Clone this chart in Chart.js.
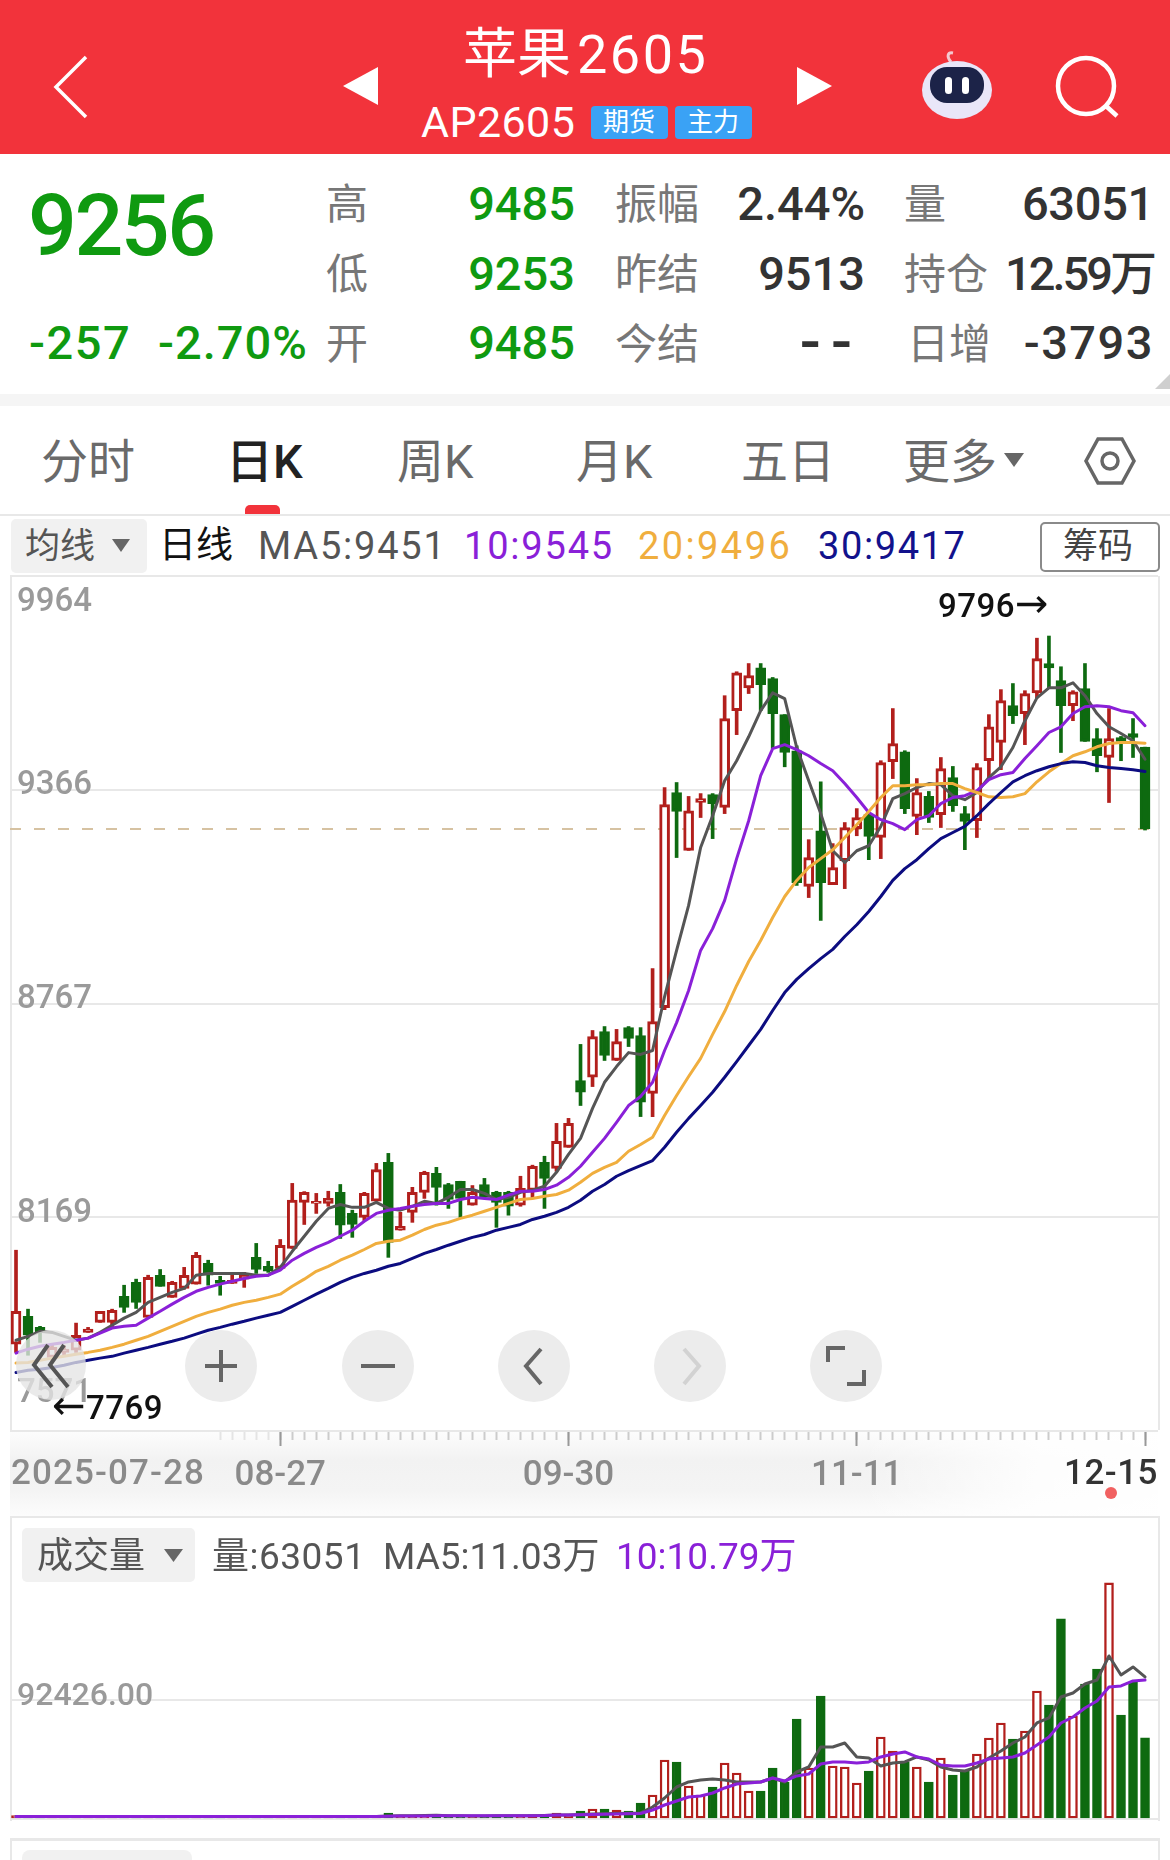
<!DOCTYPE html>
<html>
<head>
<meta charset="utf-8">
<style>
  html, body { margin: 0; padding: 0; background: #fff; }
  body { position: relative; width: 1170px; height: 1860px; overflow: hidden; font-family: Roboto, "Noto Sans CJK SC", sans-serif; }
  .abs { position: absolute; }
  .t { position: absolute; transform: translateY(-50%); white-space: nowrap; line-height: 1; }
  .g { color: #0f9a10; font-weight: 500; font-size: 47px; }
  .k { color: #333; font-weight: 500; font-size: 47px; }
  .c { color: #777; font-size: 42px; }
  .tab { font-size: 47px; color: #6a6a6a; }
  canvas { position: absolute; }
  svg { position: absolute; overflow: visible; }
</style>
</head>
<body>

<!-- header -->
<div class="abs" style="left:0;top:0;width:1170px;height:154px;background:#f2333b"></div>
<svg style="left:0;top:0" width="1170" height="154">
  <polyline points="86,57 56,87 86,117" fill="none" stroke="#fff" stroke-width="3.5"/>
  <polygon points="378,67 343,86 378,105" fill="#fff"/>
  <polygon points="797,67 832,86 797,105" fill="#fff"/>
  <path d="M951 62 C946 56 948 52 953 53" fill="none" stroke="#f3c9d0" stroke-width="3"/>
  <ellipse cx="957" cy="90" rx="35" ry="29" fill="#e9e6f8"/>
  <rect x="930" y="67" width="54" height="36" rx="17" fill="#1c2348"/>
  <rect x="945" y="77" width="7" height="17" rx="3.5" fill="#fff"/>
  <rect x="962" y="77" width="7" height="17" rx="3.5" fill="#fff"/>
  <circle cx="1086" cy="86" r="28" fill="none" stroke="#fff" stroke-width="4.5"/>
  <line x1="1106" y1="106" x2="1117" y2="116" stroke="#fff" stroke-width="4.5"/>
</svg>
<div class="t" style="left:463px;top:55px;font-size:54px;color:#fff">苹果<span style="margin-left:6px;letter-spacing:2.5px">2605</span></div>
<div class="t" style="left:421px;top:122px;font-size:43px;color:#fff;letter-spacing:.4px">AP2605</div>
<div class="abs" style="left:591px;top:106px;width:77px;height:33px;background:#3aa2f5;border-radius:4px"></div>
<div class="abs" style="left:675px;top:106px;width:77px;height:33px;background:#3aa2f5;border-radius:4px"></div>
<div class="t" style="left:603px;top:122px;font-size:26px;color:#fff">期货</div>
<div class="t" style="left:687px;top:122px;font-size:26px;color:#fff">主力</div>

<!-- quote block -->
<div class="t" style="left:28px;top:226px;font-size:86px;color:#0f9a10;font-weight:500;letter-spacing:-2.5px">9256</div>
<div class="t g" style="left:29px;top:342px;letter-spacing:1.5px">-257</div>
<div class="t g" style="left:158px;top:342px;letter-spacing:1px">-2.70%</div>
<div class="t c" style="left:326px;top:205px">高</div>
<div class="t c" style="left:326px;top:275px">低</div>
<div class="t c" style="left:326px;top:345px">开</div>
<div class="t g" style="right:595px;top:203px">9485</div>
<div class="t g" style="right:595px;top:273px">9253</div>
<div class="t g" style="right:595px;top:342px">9485</div>
<div class="t c" style="left:615px;top:205px">振幅</div>
<div class="t c" style="left:615px;top:275px">昨结</div>
<div class="t c" style="left:615px;top:345px">今结</div>
<div class="t k" style="right:305px;top:203px">2.44%</div>
<div class="t k" style="right:305px;top:273px">9513</div>
<div class="t k" style="right:308px;top:342px;font-size:62px;letter-spacing:10px">--</div>
<div class="t c" style="left:904px;top:205px">量</div>
<div class="t c" style="left:904px;top:275px">持仓</div>
<div class="t c" style="left:907px;top:345px">日增</div>
<div class="t k" style="right:16px;top:203px;letter-spacing:-.3px">63051</div>
<div class="t k" style="right:16px;top:273px;letter-spacing:-3px">12.59万</div>
<div class="t k" style="right:16px;top:342px;letter-spacing:1.5px">-3793</div>
<svg style="left:1150px;top:374px" width="20" height="15"><polygon points="20,0 20,15 5,15" fill="#cfcfcf"/></svg>
<div class="abs" style="left:0;top:394px;width:1170px;height:12px;background:#f5f5f5"></div>

<!-- tabs -->
<div class="t tab" style="left:41px;top:461px">分时</div>
<div class="t tab" style="left:226px;top:461px;color:#222;font-weight:500">日K</div>
<div class="t tab" style="left:397px;top:461px">周K</div>
<div class="t tab" style="left:576px;top:461px">月K</div>
<div class="t tab" style="left:741px;top:461px">五日</div>
<div class="t tab" style="left:903px;top:461px">更多</div>
<svg style="left:1004px;top:453px" width="20" height="14"><polygon points="0,0 20,0 10,14" fill="#666"/></svg>
<svg style="left:1085px;top:437px" width="50" height="48">
  <polygon points="13,2 37,2 49,24 37,46 13,46 1,24" fill="none" stroke="#666" stroke-width="3.5"/>
  <circle cx="25" cy="24" r="8" fill="none" stroke="#666" stroke-width="3.5"/>
</svg>
<div class="abs" style="left:245px;top:505px;width:35px;height:9px;background:#f2333b;border-radius:5px 5px 0 0"></div>
<div class="abs" style="left:0;top:514px;width:1170px;height:2px;background:#e8e8e8"></div>

<!-- MA legend row -->
<div class="abs" style="left:11px;top:519px;width:136px;height:54px;background:#f1f1f1;border-radius:5px"></div>
<div class="t" style="left:25px;top:546px;font-size:35px;color:#555">均线</div>
<svg style="left:112px;top:539px" width="18" height="13"><polygon points="0,0 18,0 9,13" fill="#666"/></svg>
<div class="t" style="left:159px;top:545px;font-size:37px;color:#111">日线</div>
<div class="t" style="left:258px;top:546px;font-size:38px;color:#555;letter-spacing:1.8px">MA5:9451</div>
<div class="t" style="left:464px;top:546px;font-size:38px;color:#8a20d8;letter-spacing:1.8px">10:9545</div>
<div class="t" style="left:638px;top:546px;font-size:38px;color:#f0ae3e;letter-spacing:2.4px">20:9496</div>
<div class="t" style="left:818px;top:546px;font-size:38px;color:#12128c;letter-spacing:1.6px">30:9417</div>
<div class="abs" style="left:1040px;top:522px;width:116px;height:46px;border:2px solid #8a8a8a;border-radius:5px"></div>
<div class="t" style="left:1063px;top:546px;font-size:35px;color:#444">筹码</div>

<!-- panel frames and the band with the dates -->
<div class="abs" style="left:10px;top:1431px;width:1148px;height:85px;background:linear-gradient(180deg,#fdfdfd 0%,#f2f2f2 35%,#f4f4f4 70%,#fcfcfc 100%)"></div>
<div class="abs" style="left:860px;top:1431px;width:298px;height:85px;background:linear-gradient(90deg,rgba(255,255,255,0) 0%,rgba(255,255,255,.85) 60%,rgba(255,255,255,.95) 100%)"></div>
<div class="abs" style="left:10px;top:576px;width:1146px;height:854px;border:solid #e8e8e8;border-width:0 2px"></div>
<div class="abs" style="left:10px;top:1516px;width:1146px;height:303px;border:solid #e8e8e8;border-width:2px 2px 0"></div>
<div class="abs" style="left:10px;top:1838px;width:1146px;height:30px;border:solid #e8e8e8;border-width:3px 2px 0"></div>
<div class="abs" style="left:22px;top:1850px;width:170px;height:30px;background:#f1f1f1;border-radius:8px"></div>

<canvas id="mainChart" width="1148" height="946" style="left:10px;top:570px"></canvas>
<canvas id="volChart" width="1148" height="312" style="left:10px;top:1511px"></canvas>

<!-- overlay buttons -->
<svg style="left:0;top:1320px" width="1170" height="92">
  <circle cx="51" cy="45" r="35" fill="#e4e4e4" fill-opacity=".78"/>
  <polyline points="48,25 34,45 52,67" fill="none" stroke="#555" stroke-width="4"/>
  <polyline points="64,25 50,45 68,67" fill="none" stroke="#555" stroke-width="4"/>
  <circle cx="221" cy="46" r="36" fill="#ececec"/>
  <path d="M205 46H237M221 30V62" stroke="#666" stroke-width="4"/>
  <circle cx="378" cy="46" r="36" fill="#ececec"/>
  <path d="M361 46H395" stroke="#666" stroke-width="4"/>
  <circle cx="534" cy="46" r="36" fill="#ececec"/>
  <polyline points="541,29 526,46 541,64" fill="none" stroke="#666" stroke-width="4"/>
  <circle cx="690" cy="46" r="36" fill="#ececec"/>
  <polyline points="684,29 699,46 684,64" fill="none" stroke="#d2d2d2" stroke-width="4"/>
  <circle cx="846" cy="46" r="36" fill="#ececec"/>
  <path d="M828 42V28H845M864 50V64H847" fill="none" stroke="#666" stroke-width="4"/>
</svg>

<!-- labels that sit on the panels -->
<div class="t" style="left:938px;top:603px;font-size:33px;color:#111;font-weight:500;letter-spacing:.5px">9796<span style="font-family:'DejaVu Sans';font-size:40px">→</span></div>
<div class="t" style="left:52px;top:1405px;font-size:33px;color:#111;font-weight:500;letter-spacing:.5px"><span style="font-family:'DejaVu Sans';font-size:40px">←</span>7769</div>
<div class="t" style="left:11px;top:1472px;font-size:35px;color:#8a8a8a;font-weight:500;letter-spacing:1.1px">2025-07-28</div>
<div class="t" style="right:12px;top:1472px;font-size:35px;color:#333;font-weight:500;letter-spacing:.5px">12-15</div>
<div class="abs" style="left:1105px;top:1487px;width:12px;height:12px;border-radius:6px;background:#f16161"></div>

<!-- volume legend -->
<div class="abs" style="left:22px;top:1528px;width:173px;height:54px;background:#f1f1f1;border-radius:5px"></div>
<div class="t" style="left:37px;top:1556px;font-size:36px;color:#555">成交量</div>
<svg style="left:164px;top:1549px" width="19" height="13"><polygon points="0,0 19,0 9.5,13" fill="#666"/></svg>
<div class="t" style="left:212px;top:1556px;font-size:37px;color:#555;letter-spacing:.5px">量:63051</div>
<div class="t" style="left:383px;top:1556px;font-size:37px;color:#555">MA5:11.03万</div>
<div class="t" style="left:616px;top:1556px;font-size:37px;color:#8a20d8">10:10.79万</div>

<script src="https://cdn.jsdelivr.net/npm/chart.js@4/dist/chart.umd.min.js"></script>
<script>
const dates = [
  '07-28','07-29','07-30','07-31','08-01',
  '08-04','08-05','08-06','08-07','08-08','08-11','08-12','08-13','08-14','08-15',
  '08-18','08-19','08-20','08-21','08-22','08-25','08-26','08-27','08-28','08-29',
  '09-01','09-02','09-03','09-04','09-05','09-08','09-09','09-10','09-11','09-12',
  '09-15','09-16','09-17','09-18','09-19','09-22','09-23','09-24','09-25','09-26',
  '09-29','09-30','10-09','10-10',
  '10-13','10-14','10-15','10-16','10-17','10-20','10-21','10-22','10-23','10-24',
  '10-27','10-28','10-29','10-30','10-31','11-03','11-04','11-05','11-06','11-07',
  '11-10','11-11','11-12','11-13','11-14','11-17','11-18','11-19','11-20','11-21',
  '11-24','11-25','11-26','11-27','11-28','12-01','12-02','12-03','12-04','12-05',
  '12-08','12-09','12-10','12-11','12-12','12-15'
];

const opens = [
  7814,7892,7861,7777,7791,7797,7847,7875,7875,7948,
  7987,7889,8007,7945,7970,7982,8040,7993,7984,7996,
  8057,8032,8026,8082,8211,8208,8208,8239,8180,8169,
  8214,8323,8133,8183,8239,8292,8261,8270,8203,8261,
  8239,8239,8203,8244,8323,8306,8365,8552,8561,8689,
  8608,8700,8678,8516,8756,9358,9196,9330,9352,9316,
  9587,9651,9707,9677,9576,9475,9095,9251,9100,9167,
  9257,9296,9232,9444,9472,9291,9347,9296,9400,9299,
  9279,9447,9498,9601,9579,9637,9719,9671,9601,9649,
  9509,9456,9512,9523,9485
];
const highs = [
  8077,7912,7864,7814,7810,7873,7861,7906,7912,7979,
  7996,8007,8023,7990,8029,8071,8049,8004,8007,8015,
  8096,8046,8107,8264,8241,8236,8242,8261,8189,8239,
  8320,8348,8183,8253,8298,8309,8264,8270,8258,8278,
  8242,8242,8284,8315,8340,8432,8446,8653,8692,8703,
  8695,8703,8700,8865,9372,9386,9347,9355,9355,9629,
  9696,9719,9719,9680,9576,9489,9226,9388,9215,9274,
  9313,9299,9447,9593,9475,9397,9361,9456,9431,9319,
  9439,9576,9646,9663,9643,9790,9796,9710,9643,9719,
  9537,9593,9515,9565,9485
];
const lows = [
  7791,7783,7819,7769,7785,7791,7847,7875,7861,7903,
  7914,7887,7976,7945,7968,7982,7979,7951,7984,7973,
  8012,8015,8026,8082,8149,8180,8200,8110,8113,8160,
  8214,8057,8133,8155,8222,8203,8194,8169,8203,8225,
  8141,8175,8200,8225,8194,8298,8365,8482,8535,8608,
  8608,8647,8451,8451,8750,9176,9196,9288,9229,9299,
  9520,9635,9587,9481,9430,9098,9064,9000,9100,9089,
  9237,9170,9173,9397,9299,9240,9274,9260,9305,9198,
  9232,9400,9422,9551,9492,9623,9651,9470,9559,9501,
  9416,9330,9447,9456,9253
];
const closes = [
  7906,7839,7847,7805,7800,7839,7856,7906,7909,7917,
  7931,8001,7976,7987,8007,8063,8007,7984,7993,8007,
  8023,8018,8091,8217,8239,8214,8222,8147,8149,8236,
  8303,8099,8144,8239,8295,8253,8219,8222,8239,8225,
  8211,8200,8250,8312,8278,8382,8432,8519,8675,8622,
  8661,8670,8491,8717,9324,9305,9307,9341,9327,9565,
  9693,9685,9660,9579,9470,9106,9176,9106,9148,9260,
  9288,9235,9442,9495,9313,9358,9288,9425,9321,9277,
  9428,9542,9615,9573,9635,9733,9707,9601,9640,9501,
  9461,9509,9501,9512,9256
];

const ma5 = [
  7825,7836,7850,7847,7836,7825,7831,7847,7867,7887,
  7903,7931,7945,7959,7970,8007,8012,8012,8012,8012,
  8007,8007,8029,8074,8116,8158,8194,8205,8197,8197,
  8211,8194,8189,8200,8214,8208,8225,8247,8247,8236,
  8219,8225,8239,8245,8256,8295,8345,8390,8474,8547,
  8591,8630,8625,8636,8787,8916,9042,9204,9293,9391,
  9447,9514,9587,9637,9621,9484,9391,9299,9195,9162,
  9195,9209,9263,9341,9355,9372,9383,9380,9349,9338,
  9358,9400,9430,9484,9559,9623,9651,9651,9665,9629,
  9579,9542,9523,9503,9451
];
const ma10 = [
  7789,7800,7808,7814,7819,7825,7831,7845,7859,7864,
  7867,7887,7906,7926,7945,7962,7973,7982,7990,7998,
  8004,8007,8021,8049,8068,8085,8099,8116,8133,8158,
  8180,8189,8194,8200,8205,8208,8208,8219,8225,8222,
  8219,8231,8242,8242,8247,8259,8281,8312,8351,8390,
  8435,8482,8507,8547,8636,8714,8804,8916,8977,9056,
  9173,9279,9405,9481,9492,9478,9461,9439,9419,9383,
  9344,9302,9282,9271,9254,9282,9293,9327,9344,9349,
  9363,9394,9408,9414,9453,9489,9526,9542,9579,9598,
  9601,9598,9587,9581,9545
];
const ma20 = [
  7761,7763,7769,7775,7780,7786,7791,7797,7805,7814,
  7825,7836,7850,7864,7878,7892,7903,7912,7923,7931,
  7937,7945,7954,7976,7996,8018,8032,8049,8063,8079,
  8096,8102,8105,8119,8135,8147,8155,8166,8175,8186,
  8197,8208,8219,8222,8228,8233,8245,8267,8292,8309,
  8323,8354,8373,8393,8454,8510,8563,8614,8681,8745,
  8818,8885,8944,9008,9067,9112,9148,9173,9198,9232,
  9268,9305,9344,9377,9377,9380,9380,9383,9383,9369,
  9358,9346,9344,9346,9355,9388,9416,9439,9461,9472,
  9486,9495,9498,9498,9496
];
const ma30 = [
  7735,7741,7744,7749,7755,7763,7769,7775,7780,7789,
  7797,7805,7814,7822,7831,7842,7853,7861,7870,7878,
  7887,7895,7903,7920,7937,7954,7970,7987,8001,8012,
  8021,8032,8040,8054,8068,8079,8091,8102,8113,8121,
  8133,8141,8149,8163,8172,8183,8197,8217,8242,8261,
  8284,8300,8314,8328,8365,8407,8446,8482,8519,8561,
  8605,8650,8695,8748,8798,8835,8865,8893,8919,8955,
  8988,9025,9067,9112,9145,9170,9201,9229,9246,9263,
  9293,9327,9358,9388,9405,9419,9430,9439,9444,9442,
  9433,9428,9425,9422,9417
];

const volumes = [
  2600,1900,1700,1800,1900,1800,1900,2000,2100,1800,
  1900,2000,1900,1800,1900,1800,2000,1800,1900,1800,
  1900,2000,1900,2000,1800,1700,1900,1800,1900,1900,
  2000,4600,2600,2400,2300,3400,2100,2200,2300,2100,
  3000,2500,2300,3200,3400,4660,3880,6210,7770,7770,
  6990,6210,12430,18640,45830,44270,25630,18640,24850,43500,
  35730,21750,21750,39610,28740,77670,39610,95530,41170,40390,
  27960,37280,63690,52820,44270,40390,28740,47380,34170,38060,
  50490,62910,74560,62140,68350,99420,88540,155340,80000,104850,
  116500,183300,80780,106410,63051
];
const volMa5 = [
  2000,2000,2000,2000,2000,2000,2000,2000,2000,2000,
  2000,2000,2000,2000,2000,2000,2000,2000,2000,2000,
  2000,2000,2000,2000,2000,2000,2000,2000,2000,2000,
  2000,2400,2500,2600,2700,2900,2600,2500,2400,2300,
  2500,2500,2500,2600,2800,3100,3100,3400,3800,4100,
  4300,4500,4700,9320,16310,24850,28740,30290,31070,30290,
  28740,28740,28740,31840,28740,36500,40390,55920,55920,59030,
  48160,47380,41170,43500,44270,48160,45830,40390,38060,37280,
  40390,47380,52820,59030,63690,74560,78450,94760,97860,104850,
  107960,126600,111840,118060,110300
];
const volMa10 = [
  2000,2000,2000,2000,2000,2000,2000,2000,2000,2000,
  2000,2000,2000,2000,2000,2000,2000,2000,2000,2000,
  2000,2000,2000,2000,2000,2000,2000,2000,2000,2000,
  2000,2200,2300,2300,2400,2500,2500,2500,2500,2500,
  2500,2500,2500,2600,2700,3100,3200,3300,3500,3700,
  3800,4000,4300,6990,10870,13980,17090,17860,20190,24080,
  27180,27960,28740,31840,29510,33400,34950,42720,44270,44270,
  43500,44270,48160,50490,52040,48160,46600,41940,41170,41170,
  43500,46600,47380,48160,51260,57480,63690,74560,79220,86210,
  91650,102520,103300,107180,107900
];

const gridTicks = [9964, 9366, 8767, 8169, 7571];
const volGridTick = 92426;
const dateTicks = ['08-27', '09-30', '11-11', '12-15'];

const lastClose = closes[closes.length - 1];
const redColor = '#b21f1c';
const greenColor = '#0e6a10';
const tickFont = { family: 'Roboto', size: 33, weight: '500' };
const xMin = -0.5;
const xMax = 95.08;

Chart.defaults.animation = false;
Chart.defaults.font.family = 'Roboto';

function isUp(i) {
  return closes[i] >= opens[i];
}
function points(values) {
  return values.map((v, i) => ({ x: i, y: v }));
}
function maLine(label, values, color, order) {
  return {
    type: 'line', label: label, data: points(values), borderColor: color, borderWidth: 3,
    pointRadius: 0, tension: 0, borderJoinStyle: 'round', borderCapStyle: 'round', order: order
  };
}
function fixTicks(list) {
  return function (axis) {
    axis.ticks = list.map(v => ({ value: v }));
  };
}
// mirrored y axes take no room and must not push the plot in
function flatY(axis) {
  axis.width = 0;
  axis.paddingTop = 0;
  axis.paddingBottom = 0;
}
function labelAxis(list, offset) {
  return {
    type: 'linear', min: 7571, max: 9964, position: 'left',
    grid: { display: false }, border: { display: false },
    afterBuildTicks: fixTicks(list), afterFit: flatY,
    ticks: { mirror: true, padding: 7, labelOffset: offset, color: '#9a9a9a', font: tickFont, autoSkip: false, callback: v => String(v) }
  };
}

let allIndexes = dates.map((d, i) => i);

new Chart(document.getElementById('mainChart'), {
  type: 'bar',
  data: {
    datasets: [
      maLine('MA5', ma5, '#555555', 4),
      maLine('MA10', ma10, '#8a20d8', 3),
      maLine('MA20', ma20, '#f0ae3e', 2),
      maLine('MA30', ma30, '#0c0c80', 1),
      {
        label: 'body', grouped: false, barThickness: 10, borderWidth: 3, borderSkipped: false, order: 5,
        data: opens.map((o, i) => ({ x: i, y: [o, closes[i]] })),
        backgroundColor: opens.map((o, i) => isUp(i) ? '#ffffff' : greenColor),
        borderColor: opens.map((o, i) => isUp(i) ? redColor : greenColor)
      },
      {
        label: 'wick', grouped: false, barThickness: 3, borderWidth: 0, order: 6,
        data: highs.map((h, i) => ({ x: i, y: [lows[i], h] })),
        backgroundColor: opens.map((o, i) => isUp(i) ? redColor : greenColor)
      }
    ]
  },
  options: {
    responsive: false,
    devicePixelRatio: 1,
    layout: { padding: { top: 6 } },
    plugins: { legend: { display: false }, tooltip: { enabled: false } },
    scales: {
      x: {
        type: 'linear', min: xMin, max: xMax, offset: false,
        grid: {
          offset: false, drawOnChartArea: false, tickLength: 9, tickWidth: 2,
          tickColor: c => c.tick && c.tick.value < 17 ? 'rgba(0,0,0,0)' : (c.tick && c.tick.value < 22 ? '#e4e4e4' : '#cccccc')
        },
        border: { display: false },
        afterBuildTicks: fixTicks(allIndexes),
        afterFit: axis => { axis.height = 0; },
        ticks: { display: false, autoSkip: false }
      },
      xDates: {
        type: 'linear', position: 'bottom', min: xMin, max: xMax, offset: false,
        grid: { offset: false, drawOnChartArea: false, tickLength: 15, tickWidth: 2, tickColor: '#999999' },
        border: { display: false },
        afterBuildTicks: fixTicks(dateTicks.map(d => dates.indexOf(d))),
        afterFit: axis => { axis.height = 85; },
        ticks: {
          autoSkip: false, maxRotation: 0, padding: 9, color: '#8a8a8a',
          font: { family: 'Roboto', size: 35, weight: '500' },
          // the last date sits against the panel edge, so it is placed with the page text
          callback: v => v === dates.length - 1 ? '' : dates[v]
        }
      },
      y: {
        type: 'linear', min: 7571, max: 9964, position: 'left',
        grid: {
          drawTicks: false, lineWidth: 2,
          color: c => c.tick && c.tick.value === lastClose ? '#d6c2a2' : '#e8e8e8'
        },
        border: { display: false, dash: c => c.tick && c.tick.value === lastClose ? [11, 13] : [] },
        afterBuildTicks: fixTicks(gridTicks.concat([lastClose]).sort((a, b) => b - a)),
        afterFit: flatY,
        ticks: {
          mirror: true, padding: 7, labelOffset: -4, color: '#9a9a9a', font: tickFont, autoSkip: false,
          callback: v => (v === lastClose || v === gridTicks[0] || v === gridTicks[4]) ? '' : String(v)
        }
      },
      yTop: labelAxis([gridTicks[0]], 27),
      yBottom: labelAxis([gridTicks[4]], -37)
    }
  }
});

new Chart(document.getElementById('volChart'), {
  type: 'bar',
  data: {
    datasets: [
      maLine('MA10', volMa10, '#8a20d8', 1),
      maLine('MA5', volMa5, '#555555', 2),
      {
        label: 'volume', grouped: false, barThickness: 9, borderWidth: 2.4, borderSkipped: false, order: 3,
        data: points(volumes),
        backgroundColor: opens.map((o, i) => isUp(i) ? '#ffffff' : greenColor),
        borderColor: opens.map((o, i) => isUp(i) ? redColor : greenColor)
      }
    ]
  },
  options: {
    responsive: false,
    devicePixelRatio: 1,
    layout: { padding: { top: 6, bottom: 4 } },
    plugins: { legend: { display: false }, tooltip: { enabled: false } },
    scales: {
      x: { type: 'linear', min: xMin, max: xMax, offset: false, display: false, grid: { offset: false } },
      y: {
        type: 'linear', min: 0, max: 234500, position: 'left',
        grid: { drawTicks: false, lineWidth: 2, color: '#e8e8e8' },
        border: { display: false },
        afterBuildTicks: fixTicks([0, volGridTick]),
        afterFit: flatY,
        ticks: {
          mirror: true, padding: 7, labelOffset: -3, color: '#9a9a9a', autoSkip: false,
          font: { family: 'Roboto', size: 32, weight: '500' },
          callback: v => v === volGridTick ? v.toFixed(2) : ''
        }
      }
    }
  }
});
</script>
</body>
</html>
